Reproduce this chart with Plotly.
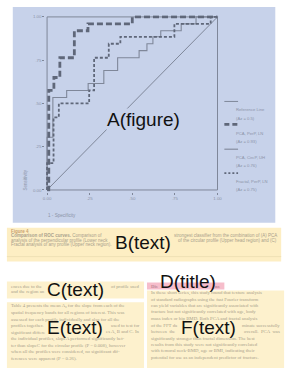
import plotly.graph_objects as go

W, H = 292, 369
def px(x): return x / W
def py(y): return 1 - y / H

# ---------------- data ----------------
tick_vals = [0, 0.25, 0.5, 0.75, 1.0]
tick_text = ['0.00', '.25', '.50', '.75', '1.00']

ref_fpr = [0, 1]
ref_tpr = [0, 1]
pca_perp_fpr = [0, 0.01, 0.04, 0.075, 0.16, 0.24, 0.5, 1.0]
pca_perp_tpr = [0, 0.575, 0.65, 0.764, 0.92, 0.96, 1.0, 1.0]
pca_circ_fpr = [0, 0, 0.034, 0.115, 0.241, 0.333, 0.414, 0.54, 0.586, 0.621, 0.667, 0.787, 0.874, 1.0]
pca_circ_tpr = [0, 0.305, 0.534, 0.575, 0.615, 0.69, 0.764, 0.805, 0.845, 0.885, 0.92, 0.96, 1.0, 1.0]
fractal_fpr = [0, 0, 0.038, 0.069, 0.247, 0.276, 0.362, 0.43, 0.747, 0.96, 1.0]
fractal_tpr = [0, 0.155, 0.42, 0.5, 0.575, 0.764, 0.845, 0.885, 0.96, 1.0, 1.0]

legend_names = ['Reference Line', 'PCA, PerP, LN', 'PCA, CircP, UH', 'Fractal, PerP, LN']
legend_az = ['(Az = 0.5)', '(Az = 0.93)', '(Az = 0.76)', '(Az = 0.75)']

caption_lines = [
    ('<b>Figure 4</b>', ''),
    ('<b>Comparison of ROC curves.</b> Comparison of', 'strongest classifier from the combination of (A) PCA'),
    ('analysis of the perpendicular profile (Lower neck', 'of the circular profile (Upper head region) and (C)'),
    ('Fractal analysis of any profile (Upper neck region).', ''),
]
c_lines = [
    ('ences due to the', 'of profile used'),
    ('and the region an', ''),
]
d_title = ('Dis', 'ns')
e_lines = [
    ('Table 4 presents the mean A<sub>z</sub> for the slope from each of the', ''),
    ('spatial frequency bands for all regions of interest. This was', ''),
    ('assessed for each profile individually and also for all the', ''),
    ('profiles together.', 'used to test for'),
    ('significant differe', 'es A, B and C. In'),
    ('the individual profiles, slopeA performed significantly bet-', ''),
    ('ter than slopeC for the circular profile (P = 0.008), however', ''),
    ('when all the profiles were considered, no significant dif-', ''),
    ('ferences were apparent (P = 0.26).', ''),
]
f_lines = [
    ('In these short series, this study found that texture analysis', ''),
    ('of standard radiographs using the fast Fourier transform', ''),
    ('can yield variables that are significantly associated with', ''),
    ('fracture but not significantly correlated with age, body', ''),
    ('mass index or hip BMD. Both PCA and fractal analysis', ''),
    ('of the FFT da', 'minate successfully'),
    ('between  the', 'overall.  PCA  was'),
    ('significantly stronger than fractal dimension. The best', ''),
    ('results from this study were not significantly correlated', ''),
    ('with femoral neck-BMD, age or BMI, indicating their', ''),
    ('potential for use as an independent predictor of fracture.', ''),
]

# ---------------- colours ----------------
BLUE = '#c7d2ea'
YEL_B = '#fdeec3'
YEL = '#fdf1cd'
PINK = '#f6bdcb'
LINE_DARK = '#5f6779'
LINE_MID = '#7f8799'
TXT_CHART = '#8c94a8'
TXT_DOC = '#a9a18c'

fig = go.Figure()

common = dict(mode='lines', line_shape='hv', hoverinfo='skip', showlegend=False)
fig.add_trace(go.Scatter(x=ref_fpr, y=ref_tpr, mode='lines', hoverinfo='skip', showlegend=False,
                         line=dict(color=LINE_MID, width=1)))
fig.add_trace(go.Scatter(x=pca_circ_fpr, y=pca_circ_tpr, **common,
                         line=dict(color=LINE_MID, width=1.1)))
fig.add_trace(go.Scatter(x=fractal_fpr, y=fractal_tpr, **common,
                         line=dict(color=LINE_DARK, width=1.8, dash='3px,2px')))
fig.add_trace(go.Scatter(x=pca_perp_fpr, y=pca_perp_tpr, **common,
                         line=dict(color=LINE_DARK, width=2.8, dash='6px,3px')))

# axes geometry: data 0..1 -> px 45..219 (x), 190..16 (y)
X0, X1, Y0, Y1 = 45, 219, 190, 16
pad = 0.01
sx = (X1 - X0)
sy = (Y0 - Y1)
xdom = [px(X0 - pad * sx), px(X1 + pad * sx)]
ydom = [py(Y0 + pad * sy), py(Y1 - pad * sy)]

shapes = []
def rect(x0, y0, x1, y1, fill):
    shapes.append(dict(type='rect', xref='paper', yref='paper', x0=px(x0), x1=px(x1),
                       y0=py(y1), y1=py(y0), fillcolor=fill,
                       line=dict(width=0), layer='below'))

rect(10, 6, 278, 223, BLUE)
rect(4, 228, 284, 262, YEL_B)
rect(4, 282, 144, 299, YEL)
rect(4, 303, 144, 369, YEL)
rect(147, 291, 287, 369, YEL)
rect(147, 283, 226, 290, PINK)
shapes.append(dict(type='line', xref='paper', yref='paper', x0=px(4), x1=px(284),
                   y0=py(257), y1=py(257), line=dict(color='#efe0b4', width=1), layer='below'))
# plot frame
shapes.append(dict(type='rect', xref='x', yref='y', x0=0, x1=1, y0=0, y1=1,
                   line=dict(color=LINE_MID, width=1), layer='below'))

# legend samples
def hline(x0, x1, y, color, width, dash='solid'):
    shapes.append(dict(type='line', xref='paper', yref='paper', x0=px(x0), x1=px(x1),
                       y0=py(y), y1=py(y), line=dict(color=color, width=width, dash=dash)))
hline(226, 240, 101, LINE_MID, 1)
hline(226, 240, 124, LINE_DARK, 2.8, '5px,3px')
hline(226, 240, 149, LINE_MID, 1.1)
hline(226, 240, 173, LINE_DARK, 1.8, '2px,2px')

ann = []
def text(x, y, s, size=4.6, color=TXT_CHART, family='Liberation Sans', xanchor='left', **kw):
    ann.append(dict(x=px(x), y=py(y), xref='paper', yref='paper', text=s, showarrow=False,
                    xanchor=xanchor, yanchor='middle', font=dict(size=size, color=color, family=family), **kw))

leg_y = [(109, 118), (133, 141), (157, 165), (181, 190)]
for (y1, y2), n, a in zip(leg_y, legend_names, legend_az):
    text(236, y1, n, size=4.2)
    text(236, y2, a, size=4.2)

text(44, 216, '1 - Specificity', size=4.6)
text(22, 180, 'Sensitivity', size=4.6, xanchor='center', textangle=-90)

# caption B
cap_y = [231.5, 236, 240.5, 245]
for (l, r), y in zip(caption_lines, cap_y):
    col = '#c9a070' if 'Figure' in l else TXT_DOC
    text(6, y, l, size=4.5, color=col)
    if r:
        text(282, y, r, size=4.5, color=TXT_DOC, xanchor='right')

SERIF = 'Liberation Serif'
# C
for (l, r), y in zip(c_lines, [287, 292.5]):
    text(6, y, l, size=4.8, color=TXT_DOC, family=SERIF)
    if r:
        text(142, y, r, size=4.8, color=TXT_DOC, family=SERIF, xanchor='right')
# D
text(149, 287, '<b>' + d_title[0] + '</b>', size=4.8, color='#c08a98', family=SERIF)
text(224, 287, '<b>' + d_title[1] + '</b>', size=4.8, color='#c08a98', family=SERIF, xanchor='right')
# E
for i, (l, r) in enumerate(e_lines):
    y = 306.5 + i * 6.65
    text(6, y, l, size=4.8, color=TXT_DOC, family=SERIF)
    if r:
        text(142, y, r, size=4.8, color=TXT_DOC, family=SERIF, xanchor='right')
# F
for i, (l, r) in enumerate(f_lines):
    y = 293.5 + i * 6.5
    text(149, y, l, size=4.8, color=TXT_DOC, family=SERIF)
    if r:
        text(285, y, r, size=4.8, color=TXT_DOC, family=SERIF, xanchor='right')

# big region labels
def label(x, y, s, bg=None):
    d = dict(x=px(x), y=py(y), xref='paper', yref='paper', text=s, showarrow=False,
             xanchor='center', yanchor='middle', borderpad=0,
             font=dict(size=19, color='#111111', family='Liberation Sans'))
    if bg:
        d['bgcolor'] = bg
    ann.append(d)

label(143, 119, 'A(figure)', BLUE)
label(143, 243, 'B(text)', YEL_B)
label(74, 290, 'C(text)')
label(189, 282, 'D(title)')
label(74, 328, 'E(text)')
label(210, 328, 'F(text)')

fig.update_layout(
    width=W, height=H, margin=dict(l=0, r=0, t=0, b=0),
    paper_bgcolor='white', plot_bgcolor='rgba(0,0,0,0)',
    shapes=shapes, annotations=ann, showlegend=False, hovermode=False,
    xaxis=dict(domain=xdom, range=[-pad, 1 + pad], tickvals=tick_vals, ticktext=tick_text,
               showgrid=False, zeroline=False, showline=False, ticks='outside', ticklen=2,
               tickcolor=LINE_MID, tickfont=dict(size=4.4, color=TXT_CHART, family='Liberation Sans')),
    yaxis=dict(domain=ydom, range=[-pad, 1 + pad], tickvals=tick_vals, ticktext=tick_text,
               showgrid=False, zeroline=False, showline=False, ticks='outside', ticklen=2,
               tickcolor=LINE_MID, tickfont=dict(size=4.4, color=TXT_CHART, family='Liberation Sans')),
)

fig.write_html('out.html', config={'displayModeBar': False, 'staticPlot': True},
               post_script="document.body.style.margin='0px';")
